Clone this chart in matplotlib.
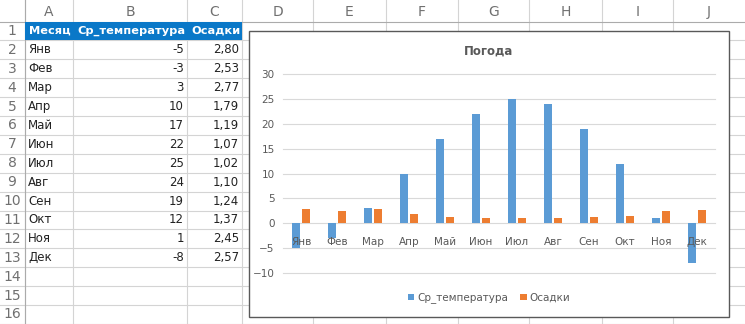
import matplotlib.pyplot as plt
from matplotlib.patches import Rectangle

# данные по месяцам
months = ['Янв', 'Фев', 'Мар', 'Апр', 'Май', 'Июн', 'Июл', 'Авг', 'Сен', 'Окт', 'Ноя', 'Дек']
temp = [-5, -3, 3, 10, 17, 22, 25, 24, 19, 12, 1, -8]
rain = [2.80, 2.53, 2.77, 1.79, 1.19, 1.07, 1.02, 1.10, 1.24, 1.37, 2.45, 2.57]
headers = ['Месяц', 'Ср_температура', 'Осадки']
col_letters = ['A', 'B', 'C', 'D', 'E', 'F', 'G', 'H', 'I', 'J']

W, H = 745, 324
fig = plt.figure(figsize=(W / 100, H / 100), dpi=100)

# лист Excel в пикселях
sheet = fig.add_axes([0, 0, 1, 1])
sheet.set_xlim(0, W)
sheet.set_ylim(H, 0)
sheet.axis('off')

col_x = [0, 25, 73, 187, 242, 313, 386, 458, 529, 602, 673, 745]
hdr_h = 21.5
row_h = 18.9
grid_c = '#d4d4d4'
txt_c = '#707070'

# сетка
for x in col_x[1:-1]:
    sheet.plot([x, x], [0, H], color=grid_c, lw=0.8, zorder=1)
for r in range(17):
    y = hdr_h + r * row_h
    sheet.plot([0, W], [y, y], color=grid_c if r else '#ababab', lw=0.8, zorder=1)
sheet.plot([col_x[1], col_x[1]], [0, H], color='#ababab', lw=0.8, zorder=1)

# буквы столбцов и номера строк
for i, c in enumerate(col_letters):
    sheet.text((col_x[i + 1] + col_x[i + 2]) / 2, hdr_h / 2 + 1, c, ha='center', va='center',
               fontsize=10, color=txt_c)
for r in range(1, 17):
    sheet.text(12, hdr_h + (r - 0.5) * row_h, str(r), ha='center', va='center',
               fontsize=10, color=txt_c)

# шапка таблицы
sheet.add_patch(Rectangle((col_x[1], hdr_h), col_x[4] - col_x[1], row_h,
                          facecolor='#0a78c8', edgecolor='none', zorder=2))
yc = hdr_h + row_h / 2
sheet.text(29, yc, headers[0], ha='left', va='center', fontsize=8.2, color='white',
           fontweight='bold', zorder=3)
sheet.text(77, yc, headers[1], ha='left', va='center', fontsize=8.2, color='white',
           fontweight='bold', zorder=3)
sheet.text(191, yc, headers[2], ha='left', va='center', fontsize=8.2, color='white',
           fontweight='bold', zorder=3)

for i, m in enumerate(months):
    yc = hdr_h + (i + 1.5) * row_h
    sheet.text(28, yc, m, ha='left', va='center', fontsize=8.5, color='#222222')
    sheet.text(184, yc, str(temp[i]), ha='right', va='center', fontsize=8.5, color='#222222')
    sheet.text(239, yc, f'{rain[i]:.2f}'.replace('.', ','), ha='right', va='center',
               fontsize=8.5, color='#222222')

# рамка диаграммы
sheet.add_patch(Rectangle((249, 31), 480, 286, facecolor='white', edgecolor='#595959',
                          lw=1.0, zorder=5))
sheet.text(489, 51, 'Погода', ha='center', va='center', fontsize=8.5, fontweight='bold',
           color='#595959', zorder=6)

# сама диаграмма
left, right, top, bottom = 283, 715, 74.3, 272.7
ax = fig.add_axes([left / W, 1 - bottom / H, (right - left) / W, (bottom - top) / H])
ax.set_zorder(10)
ax.patch.set_alpha(0)

x = list(range(len(months)))
w = 0.224
off = 0.142
ax.bar([i - off for i in x], temp, width=w, color='#5b9bd5', label='Ср_температура', zorder=2)
ax.bar([i + off for i in x], rain, width=w, color='#ed7d31', label='Осадки', zorder=2)

ax.set_xlim(-0.5, len(months) - 0.5)
ax.set_ylim(-10, 30)
ax.set_yticks(range(-10, 31, 5))
for v in range(-10, 31, 5):
    ax.axhline(v, color='#d9d9d9', lw=0.8, zorder=0, clip_on=False)
for s in ['left', 'right', 'top', 'bottom']:
    ax.spines[s].set_visible(False)
ax.set_xticks([])
ax.tick_params(axis='y', length=0, pad=6, labelsize=7.5, labelcolor='#595959')

# подписи категорий у нулевой оси, поверх столбцов
for i, m in enumerate(months):
    ax.annotate(m, (i, 0), xytext=(0, -10), textcoords='offset points', ha='center',
                va='top', fontsize=7.5, color='#595959', zorder=5)

fig.legend(loc='center', bbox_to_anchor=(489 / W, 1 - 298 / H), ncol=2, frameon=False,
           fontsize=7.5, labelcolor='#595959', handlelength=0.6, handleheight=0.6,
           handletextpad=0.3, columnspacing=1.2)

fig.savefig('out.png', dpi=100)
